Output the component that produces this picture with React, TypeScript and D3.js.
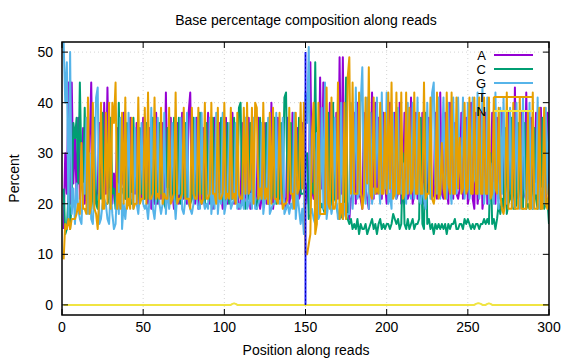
import React from "react";
import * as d3 from "d3";

const title = "Base percentage composition along reads";
const xLabel = "Position along reads";
const yLabel = "Percent";
const xTicks = [0, 50, 100, 150, 200, 250, 300];
const yTicks = [0, 10, 20, 30, 40, 50];
const seriesNames = ["A", "C", "G", "T", "N"];
const seriesColors = ["#9400d3", "#009e73", "#56b4e9", "#e69f00", "#f0e442"];
const splitPosition = 150;
const splitTop = 50;

const baseA = [
  15,30,22,44,20,44,24,34,21,37,21,25,35,20,24,21,31,44,22,20,21,23,36,22,23,
  40,22,43,23,21,20,26,21,35,20,23,24,38,21,24,20,37,21,25,22,36,20,23,21,37,
  21,24,20,35,19,22,20,38,20,23,21,36,20,42,21,20,37,22,19,21,36,20,22,38,21,
  22,20,38,42,22,21,20,37,19,22,20,35,21,23,38,20,22,19,37,21,20,36,22,19,22,
  37,20,23,21,38,20,21,22,19,20,36,21,22,20,37,19,22,21,20,23,37,19,21,22,36,
  20,23,21,40,19,22,21,37,21,20,22,21,19,37,20,22,38,21,24,35,21,22,36,24,20,
  24,20,48,23,21,22,30,22,45,23,44,20,21,22,40,22,21,23,38,21,49,22,49,21,21,
  20,17,21,22,38,20,40,22,21,19,38,23,21,19,24,42,21,40,22,37,23,21,38,24,20,
  22,40,21,23,38,21,22,40,20,21,38,23,21,22,41,20,22,38,21,24,21,38,20,22,22,
  37,23,21,22,38,21,22,42,22,21,38,23,20,40,22,21,36,22,21,23,38,21,22,37,20,
  22,40,21,19,38,20,23,38,19,22,38,20,23,21,38,22,20,37,22,21,38,22,21,20,38,
  21,22,21,43,21,22,20,38,21,22,42,21,22,37,20,22,38,21,22,39,21,22,21,38,22,
];
const baseC = [
  23,14,15,22,15,21,36,33,37,24,44,27,22,39,21,20,21,19,22,37,20,19,26,21,38,
  20,20,20,21,37,22,23,19,22,40,21,23,22,21,36,21,23,20,37,23,24,21,35,22,22,
  21,36,21,23,21,37,22,20,21,36,22,24,20,19,35,22,21,21,37,20,22,37,20,21,22,
  36,21,21,20,21,37,22,21,23,38,22,23,20,36,22,21,20,37,22,21,23,21,37,21,20,
  22,36,20,21,21,37,23,21,39,40,22,21,19,21,21,36,20,22,21,19,22,37,22,20,22,
  36,20,23,21,22,37,20,22,21,36,22,41,42,22,23,36,21,22,21,21,37,22,22,22,28,
  30,17,20,24,22,48,20,21,19,20,19,18,19,38,20,19,40,21,20,18,17,18,17,19,45,
  17,16,17,15,16,15,17,14,16,15,15,16,14,15,16,17,15,16,14,16,17,15,16,15,16,
  16,15,16,18,17,16,17,15,16,30,16,15,17,15,16,17,15,16,16,17,37,16,15,38,16,
  17,15,16,14,16,15,16,15,16,15,16,14,16,15,16,16,17,15,15,16,16,15,17,16,17,
  16,15,16,15,16,16,15,16,16,17,16,17,16,30,16,17,15,17,20,18,21,19,35,18,20,
  21,37,19,19,20,36,20,21,19,36,19,20,19,22,19,35,21,19,20,19,37,19,20,21,16,
];
const baseG = [
  52,40,48,17,50,18,23,16,24,19,17,16,24,22,37,18,30,17,16,24,41,43,16,17,20,
  21,20,17,16,23,18,15,16,24,18,37,15,20,17,21,38,21,22,19,35,20,18,22,36,20,
  19,20,17,21,39,19,17,21,37,20,18,20,38,18,23,19,22,36,22,17,22,22,37,19,18,
  21,38,20,19,18,20,37,21,19,19,38,21,19,20,19,37,18,22,19,38,18,22,20,38,18,
  20,22,36,19,20,21,36,19,20,19,21,19,37,19,20,22,19,37,19,19,20,21,36,18,21,
  21,37,18,19,20,20,38,21,20,21,37,18,19,20,18,20,19,38,17,22,19,16,19,14,42,
  36,51,18,19,17,16,34,17,18,39,19,44,17,20,21,18,20,37,21,17,17,40,17,20,17,
  18,18,40,19,24,43,21,22,40,47,25,20,41,19,38,20,23,22,41,25,20,42,24,23,42,
  20,22,19,38,23,21,39,23,22,28,24,20,40,24,21,40,21,24,41,21,20,24,21,19,40,
  24,21,42,44,24,22,41,21,30,41,25,21,40,23,20,41,25,22,41,28,24,41,21,25,40,
  21,23,41,25,24,42,21,24,43,20,24,41,20,28,24,20,42,24,19,39,22,41,24,20,23,
  39,22,20,19,40,23,19,22,41,23,20,21,40,22,19,24,22,41,19,23,23,20,39,22,38,
];
const baseT = [
  9,16,15,17,15,17,17,17,18,20,18,32,19,19,18,41,18,20,40,19,18,15,22,40,19,
  19,38,20,40,19,40,36,44,19,22,19,38,20,41,19,21,19,37,19,20,20,41,20,21,21,
  39,20,42,21,21,22,41,21,22,21,39,20,22,21,21,39,20,21,22,42,20,21,21,22,39,
  21,21,21,19,39,22,21,21,39,21,20,21,40,21,21,22,40,22,22,20,39,21,21,22,40,
  21,22,21,39,21,22,20,38,22,21,21,39,22,40,22,23,39,20,40,39,21,23,21,40,21,
  23,20,38,20,39,21,21,20,38,23,19,20,20,21,39,22,22,19,38,22,23,40,23,40,10,
  10,12,14,34,40,14,16,40,18,18,18,18,43,20,19,41,19,19,21,44,17,20,17,40,17,
  45,49,22,44,22,22,22,42,23,19,22,41,24,47,22,21,41,22,23,22,40,22,22,38,22,
  42,23,44,21,22,42,22,22,42,21,22,42,22,39,22,23,42,22,22,38,22,22,44,21,22,
  22,41,21,20,22,42,21,22,32,23,21,42,24,22,42,22,22,41,23,33,22,23,40,22,23,
  41,22,22,41,22,22,41,22,22,41,22,22,41,21,22,41,23,22,39,22,19,18,20,42,19,
  19,19,40,19,19,19,41,19,19,19,19,38,19,19,42,19,19,19,39,19,19,39,20,19,24,
];
const baseN = [
  0,0,0,0,0,0,0,0,0,0,0,0,0,0,0,0,0,0,0,0,0,0,0,0,0,
  0,0,0,0,0,0,0,0,0,0,0,0,0,0,0,0,0,0,0,0,0,0,0,0,0,
  0,0,0,0,0,0,0,0,0,0,0,0,0,0,0,0,0,0,0,0,0,0,0,0,0,
  0,0,0,0,0,0,0,0,0,0,0,0,0,0,0,0,0,0,0,0,0,0,0,0,0,
  0,0,0,0,0.2,0.3,0.2,0,0,0,0,0,0,0,0,0,0,0,0,0,0,0,0,0,0,
  0,0,0,0,0,0,0,0,0,0,0,0,0,0,0,0,0,0,0,0,0,0,0,0,0,
  0,0,0,0,0,0,0,0,0,0,0,0,0,0,0,0,0,0,0,0,0,0,0,0,0,
  0,0,0,0,0,0,0,0,0,0,0,0,0,0,0,0,0,0,0,0,0,0,0,0,0,
  0,0,0,0,0,0,0,0,0,0,0,0,0,0,0,0,0,0,0,0,0,0,0,0,0,
  0,0,0,0,0,0,0,0,0,0,0,0,0,0,0,0,0,0,0,0,0,0,0,0,0,
  0,0,0,0,0.2,0.3,0.3,0.2,0,0,0,0.2,0.3,0.2,0,0,0,0,0,0,0,0,0,0,0,
  0,0,0,0,0,0,0,0,0,0,0,0,0,0,0,0,0,0,0,0,0,0,0,0,0,
];

const seriesValues = [baseA, baseC, baseG, baseT, baseN];

const W = 576;
const H = 360;
const left = 62;
const right = 549;
const top = 42;
const bottom = 315;
const font = "'Liberation Sans', Arial, sans-serif";

export default function App() {
  const x = d3.scaleLinear().domain([0, 300]).range([left, right]);
  const y = d3.scaleLinear().domain([-2, 52]).range([bottom, top]);
  const line = d3
    .line<number>()
    .x((_, i) => x(i + 1))
    .y((d) => y(d));

  const legendY = (i: number) => 55 + i * 14;

  return (
    <svg
      width={W}
      height={H}
      style={{ position: "absolute", left: 0, top: 0, background: "#fff" }}
      fontFamily={font}
    >
      <defs>
        <clipPath id="plotClip">
          <rect x={left} y={top} width={right - left} height={bottom - top} />
        </clipPath>
      </defs>
      <rect x={0} y={0} width={W} height={H} fill="#fff" />
      {xTicks
        .filter((t) => t > 0 && t < 300)
        .map((t) => (
          <line
            key={"gx" + t}
            x1={x(t)}
            x2={x(t)}
            y1={top}
            y2={bottom}
            stroke="#d4d4d4"
            strokeDasharray="1,3"
          />
        ))}
      {yTicks
        .filter((t) => t > 0)
        .map((t) => (
          <line
            key={"gy" + t}
            x1={left}
            x2={right}
            y1={y(t)}
            y2={y(t)}
            stroke="#d4d4d4"
            strokeDasharray="1,3"
          />
        ))}
      <g clipPath="url(#plotClip)">
        {seriesValues.map((vals, si) => (
          <path
            key={seriesNames[si]}
            d={line(vals) || ""}
            fill="none"
            stroke={seriesColors[si]}
            strokeWidth={2}
            strokeLinejoin="round"
          />
        ))}
        <line
          x1={x(splitPosition)}
          x2={x(splitPosition)}
          y1={y(0)}
          y2={y(splitTop)}
          stroke="#2a2aff"
          strokeWidth={2}
        />
        <line
          x1={x(splitPosition)}
          x2={x(splitPosition)}
          y1={y(0)}
          y2={y(splitTop)}
          stroke="#0000b0"
          strokeWidth={1}
          strokeDasharray="2,2"
        />
      </g>
      <rect
        x={left}
        y={top}
        width={right - left}
        height={bottom - top}
        fill="none"
        stroke="#000"
        strokeWidth={1.5}
      />
      {xTicks.map((t) => (
        <g key={"tx" + t}>
          <line x1={x(t)} x2={x(t)} y1={bottom} y2={bottom - 6} stroke="#000" />
          <line x1={x(t)} x2={x(t)} y1={top} y2={top + 6} stroke="#000" />
          <text x={x(t)} y={332} fontSize={14} textAnchor="middle" fill="#000">
            {t}
          </text>
        </g>
      ))}
      {yTicks.map((t) => (
        <g key={"ty" + t}>
          <line x1={left} x2={left + 6} y1={y(t)} y2={y(t)} stroke="#000" />
          <line x1={right} x2={right - 6} y1={y(t)} y2={y(t)} stroke="#000" />
          <text x={53} y={y(t) + 5} fontSize={14} textAnchor="end" fill="#000">
            {t}
          </text>
        </g>
      ))}
      {seriesNames.map((n, i) => (
        <g key={"lg" + n}>
          <text x={486} y={legendY(i) + 5} fontSize={13} textAnchor="end" fill="#000">
            {n}
          </text>
          <line
            x1={494}
            x2={533}
            y1={legendY(i)}
            y2={legendY(i)}
            stroke={seriesColors[i]}
            strokeWidth={2}
          />
        </g>
      ))}
      <text x={306} y={25} fontSize={14} textAnchor="middle" fill="#000">
        {title}
      </text>
      <text x={306} y={355} fontSize={14} textAnchor="middle" fill="#000">
        {xLabel}
      </text>
      <text
        transform={`translate(19,${(top + bottom) / 2}) rotate(-90)`}
        fontSize={14}
        textAnchor="middle"
        fill="#000"
      >
        {yLabel}
      </text>
    </svg>
  );
}
